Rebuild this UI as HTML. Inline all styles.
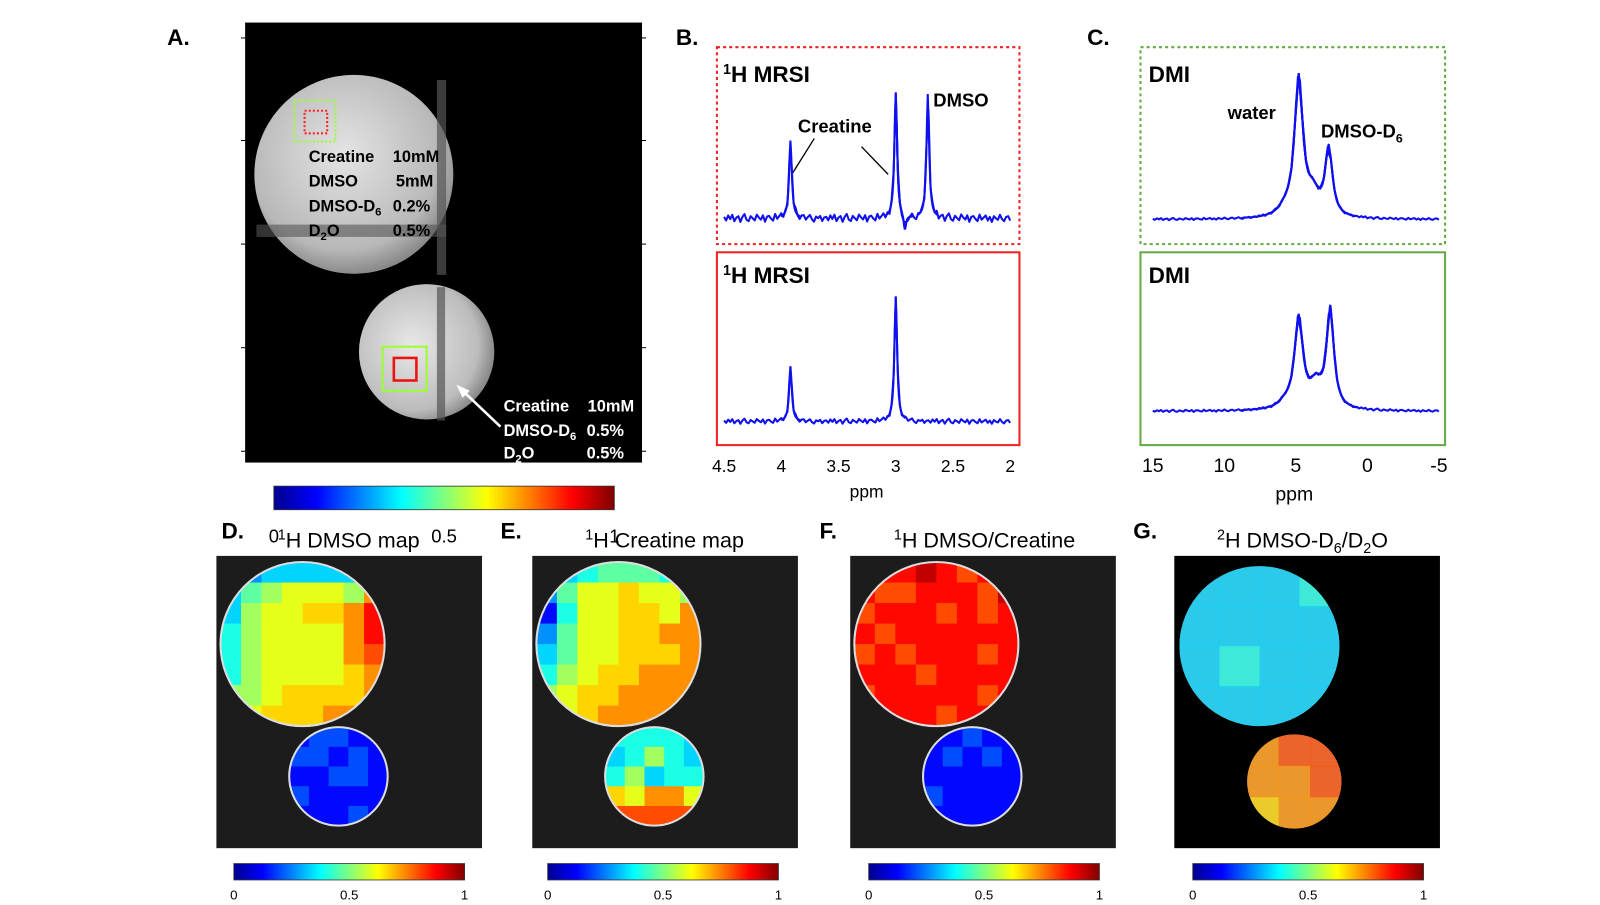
<!DOCTYPE html>
<html><head><meta charset="utf-8"><style>
body{margin:0;background:#fff;width:1600px;height:900px;overflow:hidden}
svg{font-family:"Liberation Sans",sans-serif}
.b{font-weight:bold}
</style></head><body>
<svg id="fig" width="1600" height="900" viewBox="0 0 1600 900">
<defs>
<radialGradient id="gb" cx="45%" cy="40%" r="60%"><stop offset="0" stop-color="#e4e4e4"/><stop offset="0.8" stop-color="#b8b8b8"/><stop offset="1" stop-color="#8a8a8a"/></radialGradient>
<radialGradient id="gs" cx="40%" cy="45%" r="60%"><stop offset="0" stop-color="#e8e8e8"/><stop offset="0.8" stop-color="#bcbcbc"/><stop offset="1" stop-color="#8a8a8a"/></radialGradient>
<linearGradient id="jetg" x1="0" x2="1" y1="0" y2="0">
<stop offset="0" stop-color="#00008f"/><stop offset="0.125" stop-color="#0000ff"/><stop offset="0.375" stop-color="#00ffff"/><stop offset="0.625" stop-color="#ffff00"/><stop offset="0.875" stop-color="#ff0000"/><stop offset="1" stop-color="#800000"/></linearGradient>
</defs>
<g transform="scale(1.0256)">
<!-- Panel A -->
<text x="163" y="44" class="b" font-size="22">A.</text>
<g>
<rect x="239" y="22" width="387" height="429" fill="#000"/>
<circle cx="345" cy="170" r="97" fill="url(#gb)"/>
<rect x="426" y="78" width="9" height="190" fill="#555" opacity="0.7"/>
<rect x="250" y="219" width="185" height="12" fill="#555" opacity="0.6"/>
<circle cx="416" cy="343" r="66" fill="url(#gs)"/>
<rect x="426" y="280" width="8" height="130" fill="#555" opacity="0.7"/>
<rect x="287" y="98" width="40" height="40" fill="none" stroke="#9f3" stroke-width="2" stroke-dasharray="2,2"/>
<rect x="297" y="108" width="22" height="22" fill="none" stroke="#f22" stroke-width="2" stroke-dasharray="2,2"/>
<rect x="373" y="338" width="43" height="43" fill="none" stroke="#9f3" stroke-width="2"/>
<rect x="384" y="349" width="22" height="22" fill="none" stroke="#e11" stroke-width="2.5"/>
<line x1="488" y1="416" x2="450" y2="380" stroke="#fff" stroke-width="2.5"/>
<polygon points="445,375 458,381 451,388" fill="#fff"/>
<g class="b" font-size="16" fill="#000">
<text x="301" y="158">Creatine</text><text x="383" y="158">10mM</text>
<text x="301" y="182">DMSO</text><text x="386" y="182">5mM</text>
<text x="301" y="206">DMSO-D<tspan font-size="11" dy="4">6</tspan></text><text x="383" y="206">0.2%</text>
<text x="301" y="230">D<tspan font-size="11" dy="4">2</tspan><tspan dy="-4">O</tspan></text><text x="383" y="230">0.5%</text>
</g>
<g class="b" font-size="16" fill="#fff">
<text x="491" y="401">Creatine</text><text x="573" y="401">10mM</text>
<text x="491" y="425">DMSO-D<tspan font-size="11" dy="4">6</tspan></text><text x="572" y="425">0.5%</text>
<text x="491" y="447">D<tspan font-size="11" dy="4">2</tspan><tspan dy="-4">O</tspan></text><text x="572" y="447">0.5%</text>
</g>
<g stroke="#000" stroke-width="1">
<line x1="235" y1="37" x2="239" y2="37"/><line x1="235" y1="137" x2="239" y2="137"/><line x1="235" y1="238" x2="239" y2="238"/><line x1="235" y1="339" x2="239" y2="339"/><line x1="235" y1="440" x2="239" y2="440"/>
<line x1="626" y1="37" x2="630" y2="37"/><line x1="626" y1="137" x2="630" y2="137"/><line x1="626" y1="238" x2="630" y2="238"/><line x1="626" y1="339" x2="630" y2="339"/><line x1="626" y1="440" x2="630" y2="440"/>
</g>
</g>
<g>
<rect x="267" y="474" width="332" height="23" fill="url(#jetg)" stroke="#333" stroke-width="0.8"/>
<text x="267" y="529" font-size="18" text-anchor="middle">0</text>
<text x="433" y="529" font-size="18" text-anchor="middle">0.5</text>
<text x="599" y="529" font-size="18" text-anchor="middle">1</text>
</g>
<!-- Panel B/C -->
<text x="659" y="44" class="b" font-size="22">B.</text>
<text x="1060" y="44" class="b" font-size="22">C.</text>
<rect x="699" y="46" width="295" height="192" fill="none" stroke="#e22" stroke-width="2" stroke-dasharray="3,3"/>
<rect x="699" y="246" width="295" height="188" fill="none" stroke="#e22" stroke-width="2"/>
<rect x="1112" y="46" width="297" height="192" fill="none" stroke="#6a4" stroke-width="2" stroke-dasharray="3,3"/>
<rect x="1112" y="246" width="297" height="188" fill="none" stroke="#6a4" stroke-width="2"/>
<g class="b" font-size="22">
<text x="705" y="80"><tspan font-size="14" dy="-8">1</tspan><tspan dy="8">H MRSI</tspan></text>
<text x="705" y="276"><tspan font-size="14" dy="-8">1</tspan><tspan dy="8">H MRSI</tspan></text>
<text x="1120" y="80">DMI</text>
<text x="1120" y="276">DMI</text>
</g>
<g class="b" font-size="18">
<text x="778" y="129">Creatine</text>
<text x="910" y="104">DMSO</text>
<text x="1197" y="116">water</text>
<text x="1288" y="134">DMSO-D<tspan font-size="12" dy="5">6</tspan></text>
</g>
<g stroke="#000" stroke-width="1.3">
<line x1="794" y1="135" x2="772" y2="170"/><line x1="840" y1="143" x2="866" y2="170"/>
</g>
<g id="spectra"></g>
<g id="axes" font-size="17"></g>
<text x="845" y="485" font-size="17" text-anchor="middle">ppm</text>
<text x="1262" y="488" font-size="19" text-anchor="middle">ppm</text>
<!-- bottom panels -->
<g class="b" font-size="22">
<text x="216" y="525">D.</text>
<text x="488" y="525">E.</text>
<text x="799" y="525">F.</text>
<text x="1105" y="525">G.</text>
</g>
<g font-size="21" text-anchor="middle">
<text x="340" y="534"><tspan font-size="14" dy="-8">1</tspan><tspan dy="8">H DMSO map</tspan></text>
<text x="648" y="534"><tspan font-size="14" dy="-8">1</tspan><tspan dy="8">H Creatine map</tspan></text>
<text x="960" y="534"><tspan font-size="14" dy="-8">1</tspan><tspan dy="8">H DMSO/Creatine</tspan></text>
<text x="1270" y="534"><tspan font-size="14" dy="-8">2</tspan><tspan dy="8">H DMSO-D</tspan><tspan font-size="14" dy="5">6</tspan><tspan dy="-5">/D</tspan><tspan font-size="14" dy="5">2</tspan><tspan dy="-5">O</tspan></text>
</g>
<g id="maps"></g>
</g>
</svg>
<script>
const NS="http://www.w3.org/2000/svg";
function mk(p,t,a){const e=document.createElementNS(NS,t);for(const k in a)e.setAttribute(k,a[k]);p.appendChild(e);return e;}
// ---- spectra data ----
const bTopPeaks=[[3.92,76,0.014],[3.0,123,0.014],[2.72,121,0.014],[2.92,-15,0.012]];
const bBotPeaks=[[3.92,54,0.014],[3.0,122,0.014]];
const cTopPeaks=[[4.8,136,0.35],[2.7,66,0.3],[3.8,20,0.5],[5.8,6,0.5]];
const cBotPeaks=[[4.8,89,0.35],[2.6,97,0.3],[3.6,22,0.5],[5.8,5,0.5]];
const noise=[2,-3,4,-1,5,-4,1,3,-5,2,6,-2,-4,3,0,-3,5,1,-2,4,-5,2,3,-1,-4,5,-2,1,4,-3,2,-5,3,0,-2,5,-1,-4,2,3,-3,1,4,-2,-5,2,0,3,-4,1];
const bTicks=[4.5,4,3.5,3,2.5,2];
const cTicks=[15,10,5,0,-5];
const bx=v=>706+(4.5-v)*111.6, cx=v=>1124+(15-v)*13.95;
function spec(name,x,lo,hi,base,peaks,nscale){
  const g=document.getElementById('spectra');let d='';const N=140;
  for(let i=0;i<=N;i++){const v=hi-(hi-lo)*i/N;let y=base;
    for(const p of peaks){const dv=(v-p[0])/p[2];y-=p[1]/(1+dv*dv);}
    y-=noise[i%noise.length]*nscale;
    d+=(i?'L':'M')+x(v).toFixed(1)+','+y.toFixed(1);}
  // extra fine points around peaks
  const e=mk(g,'path',{d:d,fill:'none',stroke:'#1010ee','stroke-width':2,'stroke-linejoin':'round'});
  
  
  peaks.forEach(p=>{let dd='';for(let k=-12;k<=12;k++){const v=p[0]+k*p[2]*0.5;let y=base;
      for(const q of peaks){const dv=(v-q[0])/q[2];y-=q[1]/(1+dv*dv);}
      dd+=(dd?'L':'M')+x(v).toFixed(1)+','+y.toFixed(1);}
    const pe=mk(g,'path',{d:dd,fill:'none',stroke:'#1010ee','stroke-width':2});
    
    });
}
spec('spectrum-mrsi-top',bx,2.0,4.5,213,bTopPeaks,0.7);
spec('spectrum-mrsi-bottom',bx,2.0,4.5,411,bBotPeaks,0.45);
spec('spectrum-dmi-top',cx,-5,15,214,cTopPeaks,0.2);
spec('spectrum-dmi-bottom',cx,-5,15,401,cBotPeaks,0.2);
const ax=document.getElementById('axes');
bTicks.forEach(t=>{const e=mk(ax,'text',{x:bx(t),y:460,'text-anchor':'middle'});e.textContent=t;
  
  });
cTicks.forEach(t=>{const e=mk(ax,'text',{x:cx(t),y:460,'text-anchor':'middle','font-size':19});e.textContent=t;
  
  });
// ---- maps data (hex digits 0-f => value d/15) ----
const dBig=["44555555","5789998b","5899aabd","689999bd","689999bc","689999ab","889aaaab","89aaabbb"];
const dSmall=["23322","33232","22332","32222","22232"];
const eBig=["45677766","4799a998","2699aa9b","4799aabb","5799aaab","689aabbb","89aabbbb","99abbbbb"];
const eSmall=["66665","56865","68566","a9bb9","ccccc"];
const fBig=["cddedcdc","dccdddce","cdddcdcd","dcdddddd","cdcdddcd","dddcdddd","cdddddcd","ddddcddd"];
const fSmall=["22322","23232","22222","32222","22222"];
const gBig=["5556","5555","5655","5555"];
const gSmall=["bcc","bbc","abb"];
const cbTicks=[0,0.5,1];
function jet(v){const c=x=>Math.round(255*Math.max(0,Math.min(1,x)));
  return `rgb(${c(1.5-Math.abs(4*v-3))},${c(1.5-Math.abs(4*v-2))},${c(1.5-Math.abs(4*v-1))})`;}
let cid=0;
function circleGrid(g,name,cxp,cyp,r,grid,op,ring){
  const id='cl'+(cid++);const defs=mk(g,'defs',{});const cp=mk(defs,'clipPath',{id:id});mk(cp,'circle',{cx:cxp,cy:cyp,r:r});
  const n=grid.length,s=2*r/n;const gg=mk(g,'g',{'clip-path':`url(#${id})`});
  
  
  grid.forEach((row,i)=>{for(let j=0;j<row.length;j++){const v=parseInt(row[j],16)/15;
    mk(gg,'rect',{x:cxp-r+j*s,y:cyp-r+i*s,width:s+0.5,height:s+0.5,fill:jet(v),opacity:op});}});
  if(ring)mk(g,'circle',{cx:cxp,cy:cyp,r:r,fill:'none',stroke:'#ddd','stroke-width':2});
}
const M=document.getElementById('maps');
function panel(name,x0,bg,big,small,bc,sc,op,ring,cbx){
  const g=mk(M,'g',{});
  
  
  mk(g,'rect',{x:x0,y:542,width:259,height:285,fill:bg});
  if(!ring){mk(g,'circle',{cx:bc[0],cy:bc[1],r:bc[2],fill:'#aaa'});mk(g,'circle',{cx:sc[0],cy:sc[1],r:sc[2],fill:'#aaa'});}
  circleGrid(g,name+'-large-circle',bc[0],bc[1],bc[2],big,op,ring);
  circleGrid(g,name+'-small-circle',sc[0],sc[1],sc[2],small,op,ring);
  const cb=mk(g,'rect',{x:cbx,y:842,width:225,height:16,fill:'url(#jetg)',stroke:'#333','stroke-width':0.8});
  
  
  cbTicks.forEach(t=>{const e=mk(g,'text',{x:cbx+t*225,y:877,'font-size':13,'text-anchor':'middle'});e.textContent=t;
    
    });
}
panel('dmso-map',211,'#1c1c1c',dBig,dSmall,[295,628,80],[330,757,48],1,true,228);
panel('creatine-map',519,'#1c1c1c',eBig,eSmall,[603,628,80],[638,757,48],1,true,534);
panel('ratio-map',829,'#1c1c1c',fBig,fSmall,[913,628,80],[948,757,48],1,true,847);
panel('dmi-ratio-map',1145,'#000',gBig,gSmall,[1228,630,78],[1262,762,46],0.75,false,1163);
</script>
</body></html>
